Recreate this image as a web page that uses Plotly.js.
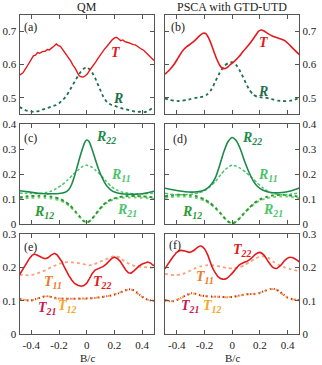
<!DOCTYPE html>
<html>
<head>
<meta charset="utf-8">
<script src="https://cdn.plot.ly/plotly-3.0.1.min.js"></script>
<style>
  html, body { margin: 0; padding: 0; background: #fff; }
  #chart { width: 322px; height: 365px; }
</style>
</head>
<body>
<div id="chart"></div>
<script>
// ---- panel (a) QM: T and R ----
var xTa = [-0.485,-0.46,-0.44,-0.42,-0.40,-0.385,-0.37,-0.355,-0.34,-0.32,-0.30,-0.285,-0.27,-0.25,-0.235,-0.22,-0.205,-0.19,-0.175,-0.16,-0.145,-0.13,-0.115,-0.10,-0.085,-0.07,-0.055,-0.04,-0.025,-0.01,0.005,0.02,0.035,0.05,0.065,0.08,0.095,0.11,0.125,0.14,0.155,0.17,0.185,0.20,0.215,0.23,0.245,0.26,0.275,0.29,0.305,0.32,0.335,0.35,0.365,0.38,0.395,0.41,0.425,0.44,0.455,0.47,0.485];
var yTa = [0.568,0.575,0.588,0.603,0.616,0.626,0.628,0.636,0.634,0.639,0.640,0.645,0.644,0.650,0.656,0.662,0.657,0.655,0.646,0.637,0.630,0.618,0.610,0.598,0.590,0.578,0.566,0.563,0.562,0.566,0.572,0.582,0.590,0.597,0.608,0.618,0.628,0.637,0.645,0.652,0.660,0.668,0.675,0.680,0.682,0.677,0.672,0.674,0.669,0.667,0.666,0.663,0.660,0.659,0.655,0.650,0.646,0.643,0.637,0.629,0.623,0.617,0.612];
var xRa = [-0.485,-0.46,-0.44,-0.42,-0.40,-0.38,-0.36,-0.34,-0.32,-0.30,-0.28,-0.26,-0.24,-0.22,-0.20,-0.18,-0.16,-0.14,-0.12,-0.10,-0.08,-0.06,-0.04,-0.02,0.00,0.02,0.04,0.06,0.08,0.10,0.12,0.14,0.16,0.18,0.20,0.22,0.24,0.26,0.28,0.30,0.32,0.34,0.36,0.38,0.40,0.42,0.44,0.46,0.485];
var yRa = [0.472,0.466,0.462,0.460,0.458,0.457,0.459,0.460,0.464,0.467,0.470,0.472,0.474,0.478,0.483,0.490,0.499,0.510,0.525,0.540,0.555,0.568,0.580,0.588,0.592,0.586,0.575,0.560,0.540,0.520,0.502,0.490,0.482,0.478,0.476,0.474,0.470,0.467,0.465,0.462,0.460,0.458,0.457,0.458,0.456,0.457,0.459,0.465,0.472];

// ---- panel (b) PSCA: T and R ----
var xTb = [-0.485,-0.45,-0.42,-0.39,-0.36,-0.33,-0.30,-0.27,-0.24,-0.21,-0.19,-0.17,-0.15,-0.13,-0.11,-0.09,-0.07,-0.05,-0.03,-0.01,0.02,0.05,0.08,0.11,0.14,0.17,0.19,0.21,0.23,0.26,0.29,0.32,0.35,0.38,0.41,0.44,0.485];
var yTb = [0.571,0.585,0.600,0.620,0.640,0.653,0.662,0.672,0.685,0.694,0.693,0.680,0.660,0.637,0.615,0.598,0.589,0.588,0.593,0.601,0.611,0.624,0.640,0.654,0.670,0.688,0.700,0.704,0.701,0.693,0.686,0.681,0.677,0.672,0.661,0.648,0.630];
var xRb = [-0.485,-0.45,-0.42,-0.39,-0.36,-0.33,-0.30,-0.27,-0.24,-0.21,-0.18,-0.15,-0.12,-0.09,-0.06,-0.03,0.00,0.03,0.06,0.09,0.12,0.15,0.18,0.21,0.24,0.27,0.30,0.33,0.36,0.39,0.42,0.45,0.485];
var yRb = [0.498,0.493,0.491,0.490,0.491,0.493,0.496,0.499,0.501,0.503,0.510,0.525,0.550,0.575,0.594,0.604,0.607,0.598,0.578,0.552,0.527,0.510,0.503,0.501,0.500,0.497,0.494,0.491,0.490,0.490,0.491,0.494,0.500];

// ---- panel (c) QM: R22, R11, R12, R21 ----
var xR22c = [-0.485,-0.44,-0.40,-0.35,-0.30,-0.25,-0.20,-0.16,-0.13,-0.11,-0.09,-0.07,-0.05,-0.03,-0.015,0.00,0.015,0.03,0.05,0.07,0.09,0.11,0.13,0.15,0.17,0.20,0.25,0.30,0.35,0.40,0.44,0.485];
var yR22c = [0.134,0.131,0.128,0.124,0.122,0.122,0.123,0.127,0.138,0.158,0.190,0.228,0.268,0.304,0.327,0.337,0.332,0.313,0.280,0.245,0.213,0.188,0.166,0.150,0.139,0.129,0.122,0.120,0.120,0.122,0.126,0.132];
var xR11c = [-0.485,-0.44,-0.40,-0.35,-0.30,-0.26,-0.22,-0.18,-0.14,-0.10,-0.06,-0.03,0.00,0.03,0.06,0.10,0.14,0.18,0.22,0.26,0.30,0.35,0.40,0.44,0.485];
var yR11c = [0.125,0.124,0.123,0.123,0.126,0.132,0.143,0.157,0.176,0.198,0.218,0.231,0.236,0.231,0.218,0.198,0.172,0.150,0.136,0.128,0.124,0.122,0.122,0.123,0.124];
var xDipC = [-0.485,-0.44,-0.40,-0.35,-0.30,-0.25,-0.20,-0.16,-0.12,-0.08,-0.05,-0.025,0.00,0.025,0.05,0.08,0.11,0.14,0.18,0.22,0.26,0.30,0.35,0.40,0.44,0.485];
var yR12c = [0.108,0.111,0.113,0.114,0.113,0.110,0.103,0.092,0.075,0.050,0.030,0.014,0.007,0.014,0.030,0.052,0.072,0.088,0.100,0.107,0.111,0.113,0.113,0.112,0.110,0.108];
var yR21c = [0.102,0.104,0.106,0.107,0.106,0.103,0.097,0.087,0.071,0.048,0.029,0.014,0.008,0.015,0.030,0.050,0.069,0.084,0.096,0.103,0.106,0.107,0.107,0.106,0.104,0.102];

// ---- panel (d) PSCA: R22, R11, R12, R21 ----
var xR22d = [-0.485,-0.44,-0.40,-0.34,-0.27,-0.22,-0.18,-0.15,-0.12,-0.09,-0.06,-0.03,0.00,0.03,0.06,0.09,0.12,0.15,0.18,0.22,0.26,0.30,0.36,0.42,0.485];
var yR22d = [0.144,0.139,0.135,0.130,0.129,0.133,0.144,0.160,0.188,0.236,0.290,0.330,0.347,0.334,0.300,0.252,0.210,0.176,0.153,0.137,0.129,0.126,0.127,0.133,0.145];
var xR11d = [-0.485,-0.44,-0.40,-0.34,-0.28,-0.24,-0.20,-0.16,-0.12,-0.08,-0.05,-0.02,0.00,0.03,0.06,0.10,0.14,0.18,0.22,0.26,0.30,0.36,0.42,0.485];
var yR11d = [0.124,0.120,0.118,0.118,0.121,0.126,0.134,0.150,0.172,0.200,0.219,0.232,0.236,0.232,0.224,0.207,0.188,0.166,0.147,0.131,0.123,0.118,0.120,0.126];
var xDipD = [-0.485,-0.44,-0.40,-0.35,-0.30,-0.25,-0.20,-0.16,-0.12,-0.08,-0.05,-0.025,0.00,0.025,0.05,0.08,0.12,0.16,0.20,0.25,0.30,0.35,0.40,0.44,0.485];
var yR12d = [0.112,0.116,0.118,0.118,0.116,0.111,0.100,0.086,0.066,0.042,0.022,0.009,0.004,0.009,0.022,0.040,0.064,0.085,0.099,0.110,0.116,0.118,0.117,0.114,0.110];
var yR21d = [0.105,0.109,0.111,0.111,0.109,0.104,0.095,0.082,0.063,0.041,0.022,0.010,0.005,0.010,0.022,0.040,0.062,0.081,0.095,0.104,0.109,0.111,0.111,0.108,0.104];

// ---- panel (e) QM: T22, T11, T21, T12 ----
var xT22e = [-0.485,-0.465,-0.449,-0.43,-0.413,-0.395,-0.377,-0.36,-0.341,-0.32,-0.30,-0.28,-0.257,-0.233,-0.215,-0.195,-0.18,-0.165,-0.149,-0.13,-0.11,-0.09,-0.065,-0.04,-0.02,0.00,0.02,0.04,0.06,0.08,0.10,0.12,0.14,0.16,0.18,0.20,0.22,0.24,0.26,0.28,0.30,0.32,0.34,0.36,0.38,0.40,0.42,0.44,0.46,0.485];
var yT22e = [0.178,0.192,0.203,0.215,0.227,0.236,0.240,0.237,0.232,0.229,0.226,0.229,0.237,0.242,0.238,0.228,0.218,0.204,0.189,0.176,0.163,0.153,0.147,0.144,0.146,0.153,0.167,0.182,0.192,0.196,0.200,0.203,0.210,0.219,0.227,0.231,0.227,0.219,0.205,0.193,0.184,0.183,0.190,0.198,0.205,0.210,0.214,0.216,0.213,0.205];
var xT11e = [-0.485,-0.45,-0.413,-0.38,-0.341,-0.30,-0.269,-0.24,-0.21,-0.173,-0.14,-0.10,-0.06,-0.029,0.00,0.02,0.05,0.09,0.13,0.164,0.20,0.236,0.27,0.308,0.34,0.38,0.42,0.45,0.485];
var yT11e = [0.178,0.177,0.176,0.179,0.184,0.191,0.198,0.204,0.209,0.214,0.216,0.215,0.213,0.211,0.207,0.206,0.209,0.216,0.223,0.229,0.235,0.230,0.219,0.210,0.205,0.202,0.200,0.200,0.199];
var xOffE = [-0.485,-0.46,-0.43,-0.40,-0.37,-0.34,-0.31,-0.29,-0.26,-0.23,-0.20,-0.15,-0.10,-0.05,0.00,0.05,0.10,0.15,0.19,0.23,0.27,0.30,0.33,0.36,0.39,0.42,0.45,0.485];
var yT21e = [0.106,0.103,0.101,0.101,0.104,0.109,0.113,0.114,0.112,0.109,0.107,0.106,0.106,0.106,0.107,0.108,0.111,0.114,0.117,0.123,0.131,0.135,0.134,0.126,0.115,0.107,0.102,0.099];
var yT12e = [0.107,0.103,0.102,0.101,0.105,0.109,0.113,0.115,0.112,0.108,0.107,0.106,0.105,0.106,0.106,0.108,0.110,0.114,0.118,0.124,0.131,0.134,0.133,0.125,0.115,0.106,0.102,0.100];

// ---- panel (f) PSCA: T22, T11, T21, T12 ----
var xT22f = [-0.485,-0.46,-0.43,-0.40,-0.37,-0.34,-0.31,-0.28,-0.25,-0.225,-0.20,-0.175,-0.15,-0.125,-0.10,-0.07,-0.04,-0.01,0.02,0.05,0.08,0.11,0.14,0.17,0.20,0.23,0.26,0.29,0.32,0.35,0.38,0.41,0.44,0.485];
var yT22f = [0.196,0.212,0.230,0.245,0.251,0.249,0.245,0.250,0.260,0.264,0.256,0.236,0.207,0.186,0.172,0.165,0.167,0.178,0.192,0.207,0.214,0.219,0.228,0.240,0.245,0.237,0.218,0.202,0.197,0.206,0.221,0.230,0.229,0.217];
var xT11f = [-0.485,-0.45,-0.41,-0.37,-0.34,-0.30,-0.27,-0.23,-0.19,-0.15,-0.11,-0.07,-0.03,0.01,0.05,0.09,0.13,0.17,0.21,0.24,0.27,0.30,0.34,0.38,0.42,0.485];
var yT11f = [0.181,0.178,0.177,0.179,0.183,0.191,0.197,0.203,0.206,0.207,0.205,0.201,0.198,0.197,0.200,0.207,0.217,0.227,0.233,0.233,0.226,0.216,0.207,0.200,0.195,0.189];
var xOffF = [-0.485,-0.46,-0.43,-0.40,-0.37,-0.34,-0.31,-0.29,-0.26,-0.23,-0.19,-0.14,-0.09,-0.04,0.00,0.04,0.08,0.12,0.16,0.20,0.24,0.28,0.31,0.34,0.37,0.40,0.44,0.485];
var yT21f = [0.102,0.099,0.099,0.102,0.108,0.115,0.121,0.123,0.121,0.117,0.114,0.113,0.112,0.111,0.112,0.115,0.118,0.121,0.120,0.124,0.131,0.136,0.135,0.129,0.119,0.110,0.105,0.103];
var yT12f = [0.103,0.100,0.099,0.103,0.108,0.115,0.120,0.122,0.121,0.116,0.114,0.112,0.112,0.111,0.112,0.114,0.118,0.120,0.121,0.124,0.130,0.135,0.135,0.128,0.118,0.110,0.104,0.102];

// ---- ticks ----
var xTickVals = [-0.4, -0.2, 0, 0.2, 0.4];
var xTickText = ["-0.4", "-0.2", "0", "0.2", "0.4"];
var yTopVals = [0.5, 0.6, 0.7];
var yTopText = ["0.5", "0.6", "0.7"];
var yMidVals = [0, 0.1, 0.2, 0.3, 0.4];
var yMidText = ["0", "0.1", "0.2", "0.3", "0.4"];
var yBotVals = [0, 0.1, 0.2, 0.3];
var yBotText = ["0", "0.1", "0.2", "0.3"];

var serif = "Liberation Serif, Times New Roman, serif";
var frame = "#555";

var cRed = "#e4191c";
var cRdark = "#1f6e4c";
var cR22 = "#1b8a4a";
var cR11 = "#4cc46c";
var cR12 = "#2b9a34";
var cR21 = "#76d276";
var cT11 = "#f7a27c";
var cT21 = "#c8184f";
var cT12 = "#f5a623";

// QM curves are noisy, so they are drawn straight; PSCA curves are smooth
function line(x, y, n, color, dash, width, smooth) {
    return {
        x: x, y: y,
        xaxis: n == 1 ? "x" : "x" + n,
        yaxis: n == 1 ? "y" : "y" + n,
        type: "scatter", mode: "lines",
        showlegend: false, hoverinfo: "skip",
        line: smooth ? {color: color, dash: dash, width: width, shape: "spline", smoothing: 0.6}
                     : {color: color, dash: dash, width: width}
    };
}

var traces = [
    line(xRa, yRa, 1, cRdark, "dot", 1.8, false),
    line(xTa, yTa, 1, cRed, "solid", 1.4, false),
    line(xRb, yRb, 2, cRdark, "dot", 1.8, true),
    line(xTb, yTb, 2, cRed, "solid", 1.6, true),

    line(xDipC, yR21c, 3, cR21, "dot", 2, true),
    line(xDipC, yR12c, 3, cR12, "dot", 2, true),
    line(xR11c, yR11c, 3, cR11, "3px,2px", 1.5, true),
    line(xR22c, yR22c, 3, cR22, "solid", 1.6, true),

    line(xDipD, yR21d, 4, cR21, "dot", 2, true),
    line(xDipD, yR12d, 4, cR12, "dot", 2, true),
    line(xR11d, yR11d, 4, cR11, "3px,2px", 1.5, true),
    line(xR22d, yR22d, 4, cR22, "solid", 1.6, true),

    line(xT11e, yT11e, 5, cT11, "dot", 1.8, false),
    line(xOffE, yT12e, 5, cT12, "dot", 2, false),
    line(xOffE, yT21e, 5, cT21, "1px,3px", 2, false),
    line(xT22e, yT22e, 5, cRed, "solid", 1.6, false),

    line(xT11f, yT11f, 6, cT11, "dot", 1.8, true),
    line(xOffF, yT12f, 6, cT12, "dot", 2, true),
    line(xOffF, yT21f, 6, cT21, "1px,3px", 2, true),
    line(xT22f, yT22f, 6, cRed, "solid", 1.6, true)
];

var colL = [0.0606, 0.4783];
var colR = [0.5124, 0.9295];
var rowTop = [0.6868, 0.9597];
var rowMid = [0.3855, 0.6595];
var rowBot = [0.0841, 0.3589];

function xAxis(domain, anchor, labels) {
    return {
        domain: domain, anchor: anchor, range: [-0.485, 0.485],
        tickvals: xTickVals, ticktext: xTickText, showticklabels: labels,
        ticks: "inside", ticklen: 4, tickcolor: frame, tickwidth: 1,
        showline: true, linecolor: frame, linewidth: 1, mirror: "ticks",
        showgrid: false, zeroline: false,
        tickfont: {family: serif, size: 11, color: "#222"}
    };
}

function yAxis(domain, anchor, range, vals, text, side) {
    return {
        domain: domain, anchor: anchor, range: range, side: side,
        tickvals: vals, ticktext: text,
        ticks: "inside", ticklen: 4, tickcolor: frame, tickwidth: 1,
        showline: true, linecolor: frame, linewidth: 1, mirror: "ticks",
        showgrid: false, zeroline: false,
        tickfont: {family: serif, size: 11, color: "#222"}
    };
}

function label(text, n, x, y, color, size) {
    return {
        text: text, xref: n == 1 ? "x" : "x" + n, yref: n == 1 ? "y" : "y" + n,
        x: x, y: y, xanchor: "center", yanchor: "middle", showarrow: false,
        font: {family: serif, size: size || 14, color: color}
    };
}

function paperText(text, x, y, size) {
    return {
        text: text, xref: "paper", yref: "paper", x: x, y: y,
        xanchor: "center", yanchor: "middle", showarrow: false,
        font: {family: serif, size: size, color: "#222"}
    };
}

function sym(base, sub) {
    return "<b><i>" + base + "</i></b>" + (sub ? "<sub><b><i>" + sub + "</i></b></sub>" : "");
}

var annotations = [
    paperText("QM", 0.271, 0.981, 12),
    paperText("PSCA with GTD-UTD", 0.721, 0.981, 12),
    paperText("B/c", 0.271, 0.019, 11),
    paperText("B/c", 0.721, 0.019, 11),

    label("(a)", 1, -0.406, 0.712, "#222", 12),
    label("(b)", 2, -0.394, 0.712, "#222", 12),
    label("(c)", 3, -0.406, 0.345, "#222", 12),
    label("(d)", 4, -0.38, 0.341, "#222", 12),
    label("(e)", 5, -0.406, 0.261, "#222", 12),
    label("(f)", 6, -0.41, 0.267, "#222", 12),

    label(sym("T"), 1, 0.214, 0.637, cRed),
    label(sym("R"), 1, 0.222, 0.499, cRdark),
    label(sym("T"), 2, 0.229, 0.667, cRed),
    label(sym("R"), 2, 0.222, 0.52, cRdark),

    label(sym("R", "22"), 3, 0.142, 0.349, cR22),
    label(sym("R", "11"), 3, 0.25, 0.197, cR11),
    label(sym("R", "12"), 3, -0.305, 0.049, cR12),
    label(sym("R", "21"), 3, 0.293, 0.057, cR11),

    label(sym("R", "22"), 4, 0.143, 0.345, cR22),
    label(sym("R", "11"), 4, 0.258, 0.197, cR11),
    label(sym("R", "12"), 4, -0.29, 0.049, cR12),
    label(sym("R", "21"), 4, 0.294, 0.057, cR11),

    label(sym("T", "11"), 5, -0.247, 0.154, "#f07828"),
    label(sym("T", "22"), 5, 0.113, 0.154, cRed),
    label(sym("T", "21"), 5, -0.29, 0.076, cT21),
    label(sym("T", "12"), 5, -0.139, 0.082, cT12),

    label(sym("T", "22"), 6, 0.07, 0.252, cRed),
    label(sym("T", "11"), 6, -0.196, 0.171, "#f07828"),
    label(sym("T", "21"), 6, -0.304, 0.082, cT21),
    label(sym("T", "12"), 6, -0.146, 0.082, cT12)
];

var layout = {
    width: 322, height: 365,
    margin: {l: 0, r: 0, t: 0, b: 0},
    paper_bgcolor: "#fff", plot_bgcolor: "#fff",
    showlegend: false,
    font: {family: serif, color: "#222"},
    xaxis: xAxis(colL, "y", false),
    yaxis: yAxis(rowTop, "x", [0.45, 0.75], yTopVals, yTopText, "left"),
    xaxis2: xAxis(colR, "y2", false),
    yaxis2: yAxis(rowTop, "x2", [0.45, 0.75], yTopVals, yTopText, "right"),
    xaxis3: xAxis(colL, "y3", false),
    yaxis3: yAxis(rowMid, "x3", [0, 0.4], yMidVals, yMidText, "left"),
    xaxis4: xAxis(colR, "y4", false),
    yaxis4: yAxis(rowMid, "x4", [0, 0.4], yMidVals, yMidText, "right"),
    xaxis5: xAxis(colL, "y5", true),
    yaxis5: yAxis(rowBot, "x5", [0, 0.3], yBotVals, yBotText, "left"),
    xaxis6: xAxis(colR, "y6", true),
    yaxis6: yAxis(rowBot, "x6", [0, 0.3], yBotVals, yBotText, "right"),
    annotations: annotations
};

Plotly.newPlot("chart", traces, layout, {staticPlot: true, displayModeBar: false});
</script>
</body>
</html>
